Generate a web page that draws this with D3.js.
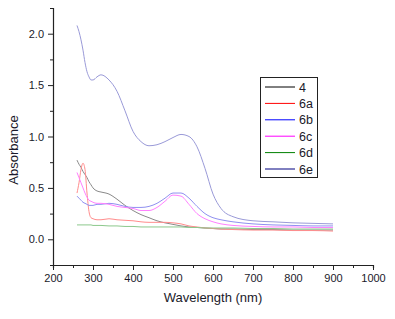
<!DOCTYPE html>
<html><head><meta charset="utf-8">
<script src="https://cdn.jsdelivr.net/npm/d3@7"></script>
<style>
body{margin:0;background:#fff;}
text{font-family:"Liberation Sans",Arial,sans-serif;fill:#1a1a2a;}
</style></head>
<body><svg id="c" width="395" height="319"></svg>
<script>
const wavelength = [260,265,270,275,280,285,290,295,300,310,320,340,360,380,400,420,440,460,480,500,520,540,560,580,600,620,650,700,750,800,850,900];
const s4  = [0.77,0.73,0.70,0.66,0.63,0.60,0.56,0.53,0.50,0.47,0.46,0.44,0.39,0.33,0.28,0.24,0.21,0.18,0.16,0.145,0.13,0.12,0.115,0.11,0.105,0.10,0.10,0.095,0.095,0.09,0.09,0.09];
const s6a = [0.45,0.55,0.68,0.74,0.68,0.45,0.27,0.21,0.20,0.19,0.19,0.20,0.19,0.185,0.18,0.17,0.165,0.165,0.165,0.16,0.15,0.13,0.12,0.11,0.105,0.10,0.095,0.09,0.09,0.085,0.085,0.08];
const s6b = [0.42,0.40,0.38,0.36,0.35,0.34,0.33,0.33,0.33,0.34,0.34,0.35,0.34,0.32,0.31,0.31,0.32,0.35,0.40,0.45,0.45,0.40,0.32,0.25,0.21,0.19,0.17,0.15,0.14,0.135,0.13,0.13];
const s6c = [0.65,0.60,0.55,0.50,0.45,0.41,0.38,0.37,0.36,0.35,0.35,0.34,0.32,0.31,0.30,0.28,0.28,0.31,0.37,0.43,0.42,0.34,0.25,0.20,0.17,0.15,0.135,0.125,0.12,0.12,0.115,0.115];
const s6d = [0.14,0.14,0.14,0.14,0.14,0.14,0.14,0.14,0.135,0.135,0.135,0.13,0.13,0.125,0.125,0.12,0.12,0.12,0.12,0.12,0.12,0.115,0.115,0.11,0.11,0.11,0.11,0.105,0.105,0.10,0.10,0.10];
const s6e = [2.08,2.02,1.94,1.84,1.72,1.63,1.58,1.55,1.55,1.58,1.60,1.55,1.44,1.25,1.05,0.95,0.91,0.92,0.95,0.99,1.02,1.00,0.90,0.69,0.44,0.30,0.22,0.18,0.17,0.16,0.155,0.15];
const seriesNames = ["4","6a","6b","6c","6d","6e"];
const seriesValues = [s4,s6a,s6b,s6c,s6d,s6e];
const seriesColors = ["#000000","#ff0000","#0000ff","#ff00ff","#008000","#000080"];
const lineColors = ["#8a8a8a","#ff8c8c","#9090f0","#ff80ff","#8cc88c","#9a9ad8"];
const xTicks = [200,300,400,500,600,700,800,900,1000];
const yTicks = [0.0,0.5,1.0,1.5,2.0];

const svg = d3.select("#c");
const x = d3.scaleLinear().domain([200,1000]).range([53,373]);
const y = d3.scaleLinear().domain([-0.25,2.25]).range([265,8]);

// x axis
const gx = svg.append("g").attr("transform","translate(0,265)");
gx.call(d3.axisBottom(x).tickValues(d3.range(200,1001,50)).tickSize(3).tickFormat(""));
gx.call(g=>g.selectAll(".tick").filter(d=>d%100===0).select("line").attr("y2",5));
const gx2 = svg.append("g").attr("transform","translate(0,265)");
gx2.call(d3.axisBottom(x).tickValues(xTicks).tickSize(0).tickPadding(9).tickFormat(d3.format("d")));
gx2.select(".domain").remove();

// y axis
const gy = svg.append("g").attr("transform","translate(53,0)");
gy.call(d3.axisLeft(y).tickValues(d3.range(-0.25,2.26,0.25)).tickSize(3).tickFormat(""));
gy.call(g=>g.selectAll(".tick").filter(d=>Math.abs(d*2-Math.round(d*2))<1e-6).select("line").attr("x2",-5));
const gy2 = svg.append("g").attr("transform","translate(53,0)");
gy2.call(d3.axisLeft(y).tickValues(yTicks).tickSize(0).tickPadding(9).tickFormat(d3.format(".1f")));
gy2.select(".domain").remove();

svg.selectAll(".domain").attr("stroke","#222").attr("stroke-width",1.2);
svg.selectAll(".tick line").attr("stroke","#222");
svg.selectAll(".tick text").attr("font-size",11).style("font-family","Liberation Sans, Arial, sans-serif").attr("fill","#1a1a2a");

// labels
svg.append("text").attr("x",213).attr("y",302).attr("text-anchor","middle").attr("font-size",13).text("Wavelength (nm)");
svg.append("text").attr("transform","translate(18,150) rotate(-90)").attr("text-anchor","middle").attr("font-size",13).text("Absorbance");

// lines
const line = d3.line().x((d,i)=>x(wavelength[i])).y(d=>y(d)).curve(d3.curveMonotoneX);
seriesValues.forEach((vals,k)=>{
  svg.append("path").datum(vals).attr("d",line).attr("fill","none")
    .attr("stroke",lineColors[k]).attr("stroke-width",1);
});

// legend
const lg = svg.append("g");
lg.append("rect").attr("x",260.5).attr("y",77.5).attr("width",57).attr("height",100)
  .attr("fill","#fff").attr("stroke","#222").attr("stroke-width",1);
seriesNames.forEach((n,k)=>{
  const yy = 87 + k*16.4;
  lg.append("line").attr("x1",265).attr("x2",295).attr("y1",yy).attr("y2",yy)
    .attr("stroke",seriesColors[k]).attr("stroke-width",1);
  lg.append("text").attr("x",299).attr("y",yy+4.5).attr("font-size",12.5).text(n);
});
</script></body></html>
